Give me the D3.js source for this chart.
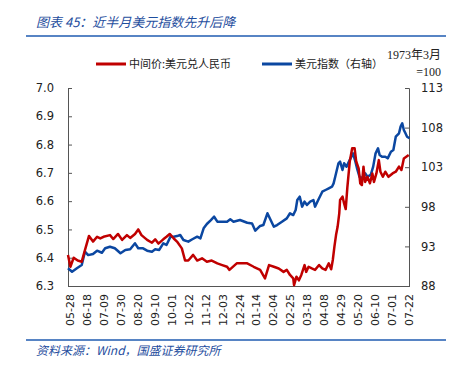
<!DOCTYPE html>
<html>
<head>
<meta charset="utf-8">
<script src="https://cdn.jsdelivr.net/npm/d3@7"></script>
<style>
  body { margin: 0; background: #fff; }
  svg { display: block; }
</style>
</head>
<body>
<div id="viz"></div>
<script>
(function chart() {
  const width = 459;
  const height = 369;
  const margin = { top: 88, right: 50, bottom: 83, left: 68 };

  const redColor = '#C00000';
  const blueColor = '#0B47A1';
  const titleColor = '#1F4E9E';
  const axisColor = '#555';
  const cjk = '"Noto Sans CJK SC", "Noto Sans", sans-serif';
  const numFont = '"DejaVu Sans", sans-serif';

  // 中间价:美元兑人民币 (left axis)
  const cnyDates = ['2021-05-26', '2021-05-29', '2021-06-02', '2021-06-07', '2021-06-12', '2021-06-16',
    '2021-06-21', '2021-06-26', '2021-07-01', '2021-07-05', '2021-07-09', '2021-07-17', '2021-07-21',
    '2021-07-27', '2021-08-01', '2021-08-07', '2021-08-11', '2021-08-17', '2021-08-21', '2021-08-25',
    '2021-09-01', '2021-09-07', '2021-09-11', '2021-09-15', '2021-09-21', '2021-09-25', '2021-09-29',
    '2021-10-04', '2021-10-08', '2021-10-14', '2021-10-18', '2021-10-22', '2021-10-28', '2021-11-02',
    '2021-11-08', '2021-11-14', '2021-11-20', '2021-11-27', '2021-12-03', '2021-12-09', '2021-12-12',
    '2021-12-21', '2022-01-03', '2022-01-11', '2022-01-19', '2022-01-25', '2022-01-30', '2022-02-05',
    '2022-02-11', '2022-02-17', '2022-02-21', '2022-02-25', '2022-03-01', '2022-03-02', '2022-03-05',
    '2022-03-08', '2022-03-11', '2022-03-15', '2022-03-17', '2022-03-20', '2022-03-24', '2022-03-28',
    '2022-04-02', '2022-04-06', '2022-04-10', '2022-04-14', '2022-04-17', '2022-04-19', '2022-04-21',
    '2022-04-23', '2022-04-25', '2022-04-27', '2022-04-28', '2022-05-01', '2022-05-03', '2022-05-05',
    '2022-05-07', '2022-05-10', '2022-05-13', '2022-05-16', '2022-05-18', '2022-05-21', '2022-05-23',
    '2022-05-25', '2022-05-27', '2022-05-29', '2022-06-01', '2022-06-04', '2022-06-07', '2022-06-09',
    '2022-06-12', '2022-06-15', '2022-06-17', '2022-06-20', '2022-06-23', '2022-06-27', '2022-07-02',
    '2022-07-06', '2022-07-10', '2022-07-13', '2022-07-16', '2022-07-19', '2022-07-22'];
  const cnyValues = [6.41, 6.368, 6.40, 6.39, 6.386, 6.427,
    6.477, 6.457, 6.474, 6.468, 6.474, 6.48, 6.466,
    6.484, 6.463, 6.48, 6.47, 6.484, 6.50, 6.48,
    6.463, 6.453, 6.465, 6.45, 6.465, 6.474, 6.484,
    6.468, 6.457, 6.433, 6.39, 6.39, 6.41, 6.39,
    6.398, 6.386, 6.39, 6.38, 6.374, 6.368, 6.357,
    6.38, 6.38, 6.368, 6.357, 6.327, 6.374, 6.368,
    6.362, 6.35, 6.357, 6.339, 6.327, 6.303, 6.333,
    6.32, 6.339, 6.374, 6.35, 6.368, 6.362, 6.357,
    6.374, 6.362, 6.357, 6.38, 6.359, 6.392, 6.439,
    6.48, 6.51, 6.557, 6.604, 6.616, 6.592, 6.572,
    6.648, 6.74, 6.787, 6.787, 6.74, 6.716, 6.663,
    6.657, 6.722, 6.668, 6.686, 6.663, 6.698, 6.668,
    6.698, 6.745, 6.704, 6.686, 6.704, 6.686, 6.698,
    6.704, 6.722, 6.71, 6.751, 6.757, 6.763];

  // 美元指数 (right axis)
  const dxyDates = ['2021-05-26', '2021-05-31', '2021-06-06', '2021-06-12', '2021-06-16', '2021-06-20',
    '2021-06-26', '2021-07-01', '2021-07-07', '2021-07-11', '2021-07-17', '2021-07-23', '2021-07-30',
    '2021-08-05', '2021-08-11', '2021-08-17', '2021-08-21', '2021-08-27', '2021-09-01', '2021-09-07',
    '2021-09-11', '2021-09-16', '2021-09-21', '2021-09-25', '2021-09-30', '2021-10-04', '2021-10-08',
    '2021-10-12', '2021-10-16', '2021-10-22', '2021-10-27', '2021-11-02', '2021-11-06', '2021-11-10',
    '2021-11-14', '2021-11-19', '2021-11-23', '2021-11-27', '2021-12-03', '2021-12-09', '2021-12-13',
    '2021-12-17', '2021-12-25', '2022-01-03', '2022-01-09', '2022-01-13', '2022-01-19', '2022-01-23',
    '2022-01-28', '2022-02-01', '2022-02-05', '2022-02-09', '2022-02-15', '2022-02-21', '2022-02-25',
    '2022-03-01', '2022-03-04', '2022-03-06', '2022-03-09', '2022-03-12', '2022-03-15', '2022-03-18',
    '2022-03-22', '2022-03-26', '2022-03-28', '2022-04-02', '2022-04-06', '2022-04-10', '2022-04-14',
    '2022-04-18', '2022-04-20', '2022-04-22', '2022-04-26', '2022-04-28', '2022-05-01', '2022-05-03',
    '2022-05-06', '2022-05-09', '2022-05-12', '2022-05-14', '2022-05-17', '2022-05-19', '2022-05-22',
    '2022-05-25', '2022-05-29', '2022-06-01', '2022-06-05', '2022-06-08', '2022-06-11', '2022-06-14',
    '2022-06-16', '2022-06-19', '2022-06-23', '2022-06-26', '2022-06-30', '2022-07-03', '2022-07-06',
    '2022-07-10', '2022-07-12', '2022-07-14', '2022-07-16', '2022-07-18', '2022-07-20', '2022-07-23'];
  const dxyValues = [90.24, 89.8, 90.24, 90.65, 92.33, 91.9,
    92.04, 92.46, 92.2, 92.76, 92.96, 92.76, 92.13,
    92.55, 92.63, 93.39, 92.76, 92.76, 92.46, 92.33,
    92.63, 92.55, 93.39, 93.18, 94.23, 94.23, 94.3,
    94.44, 93.81, 93.6, 93.9, 94.23, 94.02, 95.28,
    95.83, 96.33, 96.75, 96.12, 96.12, 96.12, 96.42,
    96.12, 96.33, 95.99, 95.9, 94.98, 95.58, 95.7,
    97.18, 96.33, 95.49, 95.7, 96.12, 96.54, 97.18,
    96.96, 97.6, 98.86, 99.28, 98.02, 98.65, 98.23,
    98.65, 98.86, 98.02, 99.07, 99.91, 100.12, 100.33,
    100.54, 100.96, 101.8, 103.49, 103.7, 102.65, 103.49,
    103.07, 103.7, 104.33, 104.75, 103.7, 102.86, 101.8,
    101.6, 102.23, 101.8, 102.02, 103.07, 104.75, 105.38,
    104.54, 104.33, 104.33, 104.12, 104.96, 105.17, 106.85,
    107.28, 108.12, 108.54, 107.7, 107.28, 106.85, 106.65];

  const xTickLabels = ['05-28', '06-18', '07-09', '07-30', '08-20', '09-10', '10-01', '10-22', '11-12',
    '12-03', '12-24', '01-14', '02-04', '02-25', '03-18', '04-08', '04-29', '05-20', '06-10', '07-01', '07-22'];
  const leftTicks = [6.3, 6.4, 6.5, 6.6, 6.7, 6.8, 6.9, 7.0];
  const rightTicks = [88, 93, 98, 103, 108, 113];

  const parseTime = d3.timeParse('%Y-%m-%d');
  const cny = cnyDates.map((d, i) => ({ date: parseTime(d), value: cnyValues[i] }));
  const dxy = dxyDates.map((d, i) => ({ date: parseTime(d), value: dxyValues[i] }));
  // tick dates: every 3 weeks from 2021-05-28
  const tickDates = xTickLabels.map((d, i) => parseTime(`${i < 11 ? 2021 : 2022}-${d}`));

  const x = d3.scaleTime()
    .domain([parseTime('2021-05-26'), parseTime('2022-07-23')])
    .range([margin.left, width - margin.right + 0.5]);
  const yLeft = d3.scaleLinear().domain([6.3, 7.0]).range([height - margin.bottom, margin.top]);
  const yRight = d3.scaleLinear().domain([88, 113]).range([height - margin.bottom, margin.top]);

  const svg = d3.select('#viz').append('svg')
    .attr('width', width)
    .attr('height', height);

  // title and rules
  svg.append('text')
    .attr('x', 36).attr('y', 27)
    .text('图表 45：近半月美元指数先升后降')
    .style('font-family', cjk)
    .style('font-style', 'italic')
    .style('font-size', '13px')
    .style('fill', titleColor);
  svg.append('line')
    .attr('x1', 26).attr('x2', 446).attr('y1', 36).attr('y2', 36)
    .attr('stroke', '#1F5BB0').attr('stroke-width', 1.5);
  svg.append('line')
    .attr('x1', 26).attr('x2', 446).attr('y1', 340).attr('y2', 340)
    .attr('stroke', '#1F5BB0').attr('stroke-width', 1.5);
  svg.append('text')
    .attr('x', 36).attr('y', 355)
    .text('资料来源：Wind，国盛证券研究所')
    .style('font-family', cjk)
    .style('font-style', 'italic')
    .style('font-size', '12px')
    .style('fill', titleColor);

  // legend
  const legend = svg.append('g').attr('class', 'legend');
  const legendItems = [
    { label: '中间价:美元兑人民币', color: redColor, x: 96 },
    { label: '美元指数（右轴）', color: blueColor, x: 262 },
  ];
  legendItems.forEach((item) => {
    legend.append('line')
      .attr('x1', item.x).attr('x2', item.x + 30)
      .attr('y1', 64).attr('y2', 64)
      .attr('stroke', item.color).attr('stroke-width', 3);
    legend.append('text')
      .attr('x', item.x + 33).attr('y', 68)
      .text(item.label)
      .style('font-family', cjk)
      .style('font-size', '11px')
      .style('fill', '#222');
  });
  svg.append('text')
    .attr('x', 441).attr('y', 59)
    .attr('text-anchor', 'end')
    .text('1973年3月')
    .style('font-family', '"Liberation Serif", "Noto Sans CJK SC", serif')
    .style('font-size', '12px')
    .style('fill', '#222');
  svg.append('text')
    .attr('x', 441).attr('y', 76)
    .attr('text-anchor', 'end')
    .text('=100')
    .style('font-family', '"Liberation Serif", serif')
    .style('font-size', '12px')
    .style('fill', '#222');

  // axes
  const leftAxis = svg.append('g')
    .attr('transform', `translate(${margin.left},0)`)
    .call(d3.axisLeft(yLeft).tickValues(leftTicks).tickFormat(d3.format('.1f')).tickSize(-4).tickPadding(14));
  const rightAxis = svg.append('g')
    .attr('transform', `translate(${width - margin.right},0)`)
    .call(d3.axisRight(yRight).tickValues(rightTicks).tickSize(-4).tickPadding(12));
  const bottomAxis = svg.append('g')
    .attr('transform', `translate(0,${height - margin.bottom})`)
    .call(d3.axisBottom(x).tickValues(tickDates).tickFormat((d, i) => xTickLabels[i]).tickSize(0));

  [leftAxis, rightAxis, bottomAxis].forEach((a) => {
    a.select('.domain').attr('stroke', axisColor).attr('stroke-width', 1);
    a.selectAll('.tick line').attr('stroke', axisColor);
    a.selectAll('text')
      .style('font-family', numFont)
      .style('font-size', '11.5px')
      .style('fill', '#222');
  });
  bottomAxis.selectAll('text')
    .attr('transform', 'rotate(-90)')
    .attr('text-anchor', 'end')
    .attr('x', -8)
    .attr('y', 0)
    .attr('dy', '0.35em')
    .style('font-size', '11px');

  // lines
  const cnyLine = d3.line().x(d => x(d.date)).y(d => yLeft(d.value));
  const dxyLine = d3.line().x(d => x(d.date)).y(d => yRight(d.value));

  svg.append('path')
    .datum(dxy)
    .attr('fill', 'none')
    .attr('stroke', blueColor)
    .attr('stroke-width', 2.5)
    .attr('stroke-linejoin', 'round')
    .attr('d', dxyLine);

  svg.append('path')
    .datum(cny)
    .attr('fill', 'none')
    .attr('stroke', redColor)
    .attr('stroke-width', 2.5)
    .attr('stroke-linejoin', 'round')
    .attr('d', cnyLine);
}());
</script>
</body>
</html>
